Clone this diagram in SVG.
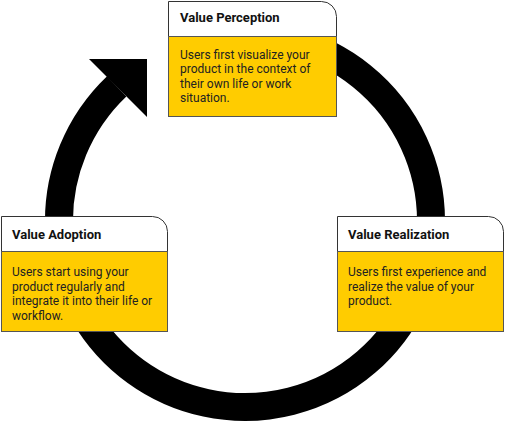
<svg xmlns="http://www.w3.org/2000/svg" width="505" height="424" viewBox="0 0 505 424">
<style>
.hd{fill:#ffffff;stroke:#333333;stroke-width:1}
.bd{fill:#ffcc00;stroke:#555555;stroke-width:1}
.tt{font-family:Roboto,"Liberation Sans",sans-serif;font-weight:bold;font-size:13px;fill:#111111}
.tx{font-family:Roboto,"Liberation Sans",sans-serif;font-size:12px;fill:#222222}
</style>
<rect width="505" height="424" fill="#ffffff"/>
<g id="connectors">
<path d="M 293.1 41.3 A 186 186 0 1 1 116.7 86.3" fill="none" stroke="#000000" stroke-width="28"/>
<polygon points="147,59 89,59 147,117" fill="#000000"/>
</g>
<g id="value-perception">
<path class="hd" d="M168.5 1.5 H321.5 A15 15 0 0 1 336.5 16.5 V36.5 H168.5 Z"/>
<rect class="bd" x="168.5" y="36.5" width="168" height="80"/>
<text class="tt" x="180" y="22">Value Perception</text>
<text class="tx" x="180" y="58.5">Users first visualize your</text>
<text class="tx" x="180" y="73">product in the context of</text>
<text class="tx" x="180" y="87.5">their own life or work</text>
<text class="tx" x="180" y="102">situation.</text>
</g>
<g id="value-adoption">
<path class="hd" d="M1.5 216.5 H152.5 A15 15 0 0 1 167.5 231.5 V251.5 H1.5 Z"/>
<rect class="bd" x="1.5" y="251.5" width="166" height="80"/>
<text class="tt" x="12" y="239">Value Adoption</text>
<text class="tx" x="12" y="276">Users start using your</text>
<text class="tx" x="12" y="290.5">product regularly and</text>
<text class="tx" x="12" y="305">integrate it into their life or</text>
<text class="tx" x="12" y="319.5">workflow.</text>
</g>
<g id="value-realization">
<path class="hd" d="M337.5 216.5 H488.5 A15 15 0 0 1 503.5 231.5 V251.5 H337.5 Z"/>
<rect class="bd" x="337.5" y="251.5" width="166" height="80"/>
<text class="tt" x="348" y="239">Value Realization</text>
<text class="tx" x="348" y="276">Users first experience and</text>
<text class="tx" x="348" y="290.5">realize the value of your</text>
<text class="tx" x="348" y="305">product.</text>
</g>
</svg>
